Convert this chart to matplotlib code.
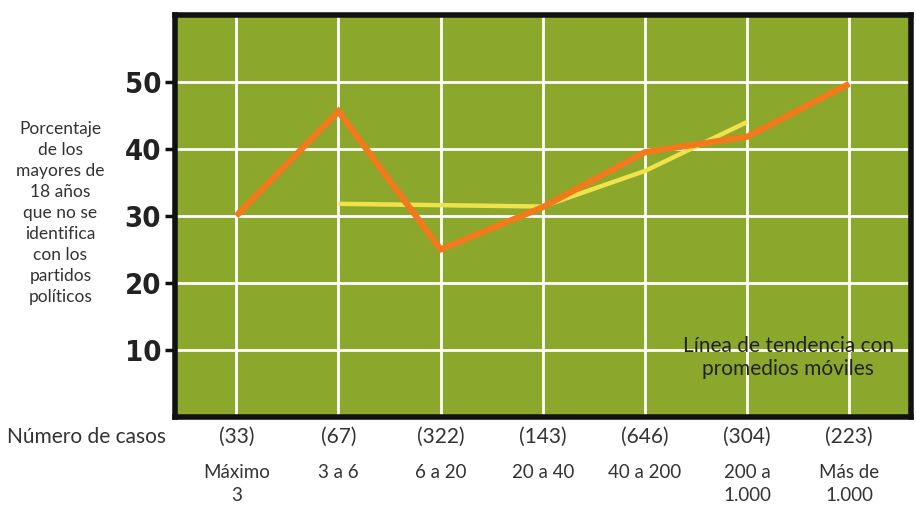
import matplotlib
matplotlib.use("Agg")
import matplotlib.pyplot as plt

# data
categories = ["Máximo\n3", "3 a 6", "6 a 20", "20 a 40", "40 a 200", "200 a\n1.000", "Más de\n1.000"]
casos = ["(33)", "(67)", "(322)", "(143)", "(646)", "(304)", "(223)"]
porcentaje = [30.0, 45.6, 25.0, 31.3, 39.5, 41.8, 49.7]
tendencia_x = [1, 2, 3, 4, 5]
tendencia = [31.8, 31.6, 31.4, 36.7, 44.0]
yticks = [10, 20, 30, 40, 50]

GREEN = "#8ba72c"
ORANGE = "#f27a1c"
YELLOW = "#f0e24a"
TEXT = "#333333"

fig = plt.figure(figsize=(9.16, 5.08), dpi=100)
ax = fig.add_axes([0.191, 0.179, 0.803, 0.792])
ax.set_facecolor(GREEN)

x = list(range(len(categories)))
ax.set_xlim(-0.6, 6.6)
ax.set_ylim(0, 60)

# grid
for v in yticks:
    ax.axhline(v, color="white", lw=2, zorder=1)
for xi in x:
    ax.axvline(xi, color="white", lw=2, zorder=1)

ax.plot(tendencia_x, tendencia, color=YELLOW, lw=3.2, solid_capstyle="butt", zorder=2)
ax.plot(x, porcentaje, color=ORANGE, lw=4.5, solid_joinstyle="miter", solid_capstyle="butt", zorder=3)

for s in ax.spines.values():
    s.set_linewidth(4)
    s.set_color("#111111")

ax.set_xticks([])
ax.set_yticks(yticks)
ax.tick_params(axis="y", length=7, width=2.5, color="#111111", pad=3)
ax.set_yticklabels([str(v) for v in yticks], fontsize=21, fontweight="bold",
                   fontstretch="condensed", family="DejaVu Sans", color="#222222")

ax.text(0.834, 0.148, "Línea de tendencia con\npromedios móviles", transform=ax.transAxes,
        ha="center", va="center", fontsize=15, color="#222222", family="Lato",
        linespacing=1.22)

fig.text(0.066, 0.581, "Porcentaje\nde los\nmayores de\n18 años\nque no se\nidentifica\ncon los\npartidos\npolíticos",
         ha="center", va="center", fontsize=12.5, color=TEXT, family="Lato", linespacing=1.38)

# bottom labels
y_casos = 1 - 437 / 508
y_cat = 1 - 464 / 508
fig.text(0.008, y_casos, "Número de casos", ha="left", va="center", fontsize=15, color=TEXT, family="Lato")
for xi, c, lab in zip(x, casos, categories):
    xf = fig.transFigure.inverted().transform(ax.transData.transform((xi, 0)))[0]
    fig.text(xf, y_casos, c, ha="center", va="center", fontsize=15, color=TEXT, family="Lato")
    fig.text(xf, y_cat, lab, ha="center", va="top", fontsize=13.5, color=TEXT, family="Lato",
             linespacing=1.4)

fig.savefig("out.png", dpi=100)
